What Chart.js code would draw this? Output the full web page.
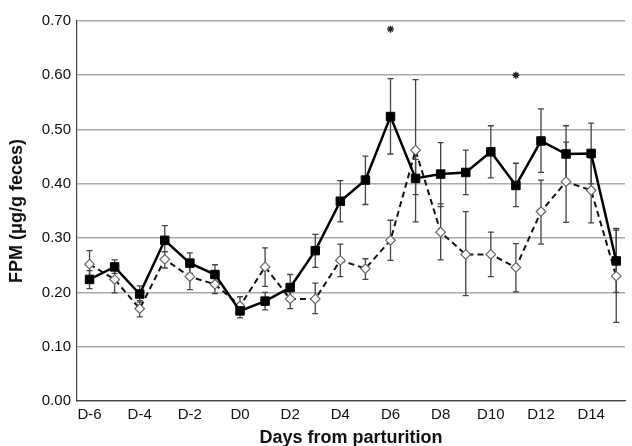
<!DOCTYPE html>
<html>
<head>
<meta charset="utf-8">
<script src="https://cdn.jsdelivr.net/npm/chart.js@4"></script>
<style>
  html, body { margin: 0; padding: 0; background: #fff; overflow: hidden; }
  #wrap { width: 632px; height: 446px; }
</style>
</head>
<body>
<div id="wrap"><canvas id="chart" width="632" height="446"></canvas></div>
<script>
// days from parturition, D-6 .. D15
var days = [-6, -5, -4, -3, -2, -1, 0, 1, 2, 3, 4, 5, 6, 7, 8, 9, 10, 11, 12, 13, 14, 15];

// solid line, square markers
var solidMean = [0.224, 0.247, 0.197, 0.296, 0.254, 0.233, 0.166, 0.184, 0.209, 0.277, 0.368, 0.407, 0.524, 0.410, 0.418, 0.421, 0.459, 0.397, 0.479, 0.455, 0.456, 0.258];
var solidLow  = [0.207, 0.235, 0.182, 0.275, 0.235, 0.215, 0.153, 0.168, 0.190, 0.246, 0.330, 0.362, 0.455, 0.380, 0.358, 0.380, 0.411, 0.358, 0.421, 0.403, 0.400, 0.200];
var solidHigh = [0.240, 0.260, 0.212, 0.323, 0.273, 0.251, 0.180, 0.200, 0.233, 0.307, 0.406, 0.451, 0.594, 0.445, 0.476, 0.462, 0.507, 0.438, 0.538, 0.507, 0.512, 0.318];

// dashed line, open diamond markers
var dashMean = [0.252, 0.224, 0.170, 0.261, 0.229, 0.215, 0.175, 0.247, 0.188, 0.188, 0.259, 0.244, 0.296, 0.462, 0.311, 0.270, 0.270, 0.246, 0.349, 0.404, 0.388, 0.230];
var dashLow  = [0.227, 0.199, 0.155, 0.245, 0.205, 0.198, 0.160, 0.211, 0.170, 0.161, 0.229, 0.224, 0.259, 0.330, 0.260, 0.194, 0.229, 0.201, 0.289, 0.329, 0.328, 0.145];
var dashHigh = [0.277, 0.245, 0.185, 0.275, 0.250, 0.230, 0.192, 0.282, 0.205, 0.217, 0.289, 0.262, 0.333, 0.592, 0.363, 0.349, 0.311, 0.290, 0.407, 0.477, 0.448, 0.315];

// significance marks
var starDays = [6, 11];
var starValues = [0.685, 0.600];

var xTicks = [-6, -4, -2, 0, 2, 4, 6, 8, 10, 12, 14];
var yTicks = [0, 0.1, 0.2, 0.3, 0.4, 0.5, 0.6, 0.7];

function pts(xs, ys) {
  var out = [];
  for (var i = 0; i < xs.length; i++) out.push({ x: xs[i], y: ys[i] });
  return out;
}

// draws the vertical error bars with caps
var errorBars = {
  id: 'errorBars',
  beforeDatasetsDraw: function(chart) {
    var ctx = chart.ctx;
    var xs = chart.scales.x, ys = chart.scales.y;
    var sets = [[solidLow, solidHigh], [dashLow, dashHigh]];
    ctx.save();
    ctx.strokeStyle = '#444';
    ctx.lineWidth = 1.3;
    sets.forEach(function(s) {
      for (var i = 0; i < days.length; i++) {
        var px = xs.getPixelForValue(days[i]);
        var lo = ys.getPixelForValue(s[0][i]);
        var hi = ys.getPixelForValue(s[1][i]);
        ctx.beginPath();
        ctx.moveTo(px, lo); ctx.lineTo(px, hi);
        ctx.moveTo(px - 3, lo); ctx.lineTo(px + 3, lo);
        ctx.moveTo(px - 3, hi); ctx.lineTo(px + 3, hi);
        ctx.stroke();
      }
    });
    ctx.restore();
  }
};

new Chart(document.getElementById('chart'), {
  type: 'line',
  data: {
    datasets: [
      {
        data: pts(days, solidMean),
        borderColor: '#000',
        borderWidth: 2.5,
        pointStyle: 'rect',
        pointRadius: 6,
        pointBackgroundColor: '#000',
        pointBorderColor: '#000',
        pointBorderWidth: 1,
        tension: 0,
        order: 1
      },
      {
        data: pts(days, dashMean),
        borderColor: '#111',
        borderWidth: 2,
        borderDash: [6, 4],
        pointStyle: 'rectRot',
        pointRadius: 4.8,
        pointBackgroundColor: '#fff',
        pointBorderColor: '#666',
        pointBorderWidth: 1.2,
        tension: 0,
        order: 2
      },
      {
        data: pts(starDays, starValues),
        showLine: false,
        pointStyle: 'star',
        pointRadius: 3.5,
        pointBorderColor: '#222',
        pointBorderWidth: 1.4,
        order: 0
      }
    ]
  },
  options: {
    responsive: false,
    animation: false,
    layout: { padding: { top: 21, right: 0, left: 0, bottom: 0 } },
    plugins: { legend: { display: false }, tooltip: { enabled: false } },
    scales: {
      x: {
        type: 'linear',
        min: -6.5,
        max: 15.35,
        afterBuildTicks: function(scale) {
          scale.ticks = xTicks.map(function(v) { return { value: v }; });
        },
        afterFit: function(scale) { scale.height = 45; },
        grid: { display: false, drawTicks: false },
        border: { display: true, color: '#444', width: 1.2 },
        ticks: {
          padding: 5,
          color: '#111',
          font: { family: 'Liberation Sans, Arial', size: 15 },
          maxRotation: 0,
          callback: function(v) { return 'D' + v; }
        },
        title: {
          display: true,
          text: 'Days from parturition',
          color: '#111',
          padding: { top: 1, bottom: -3 },
          font: { family: 'Liberation Sans, Arial', size: 18, weight: 'bold' }
        }
      },
      y: {
        min: 0,
        max: 0.7,
        afterBuildTicks: function(scale) {
          scale.ticks = yTicks.map(function(v) { return { value: v }; });
        },
        afterFit: function(scale) { scale.width = 77; },
        grid: { color: '#aaa', lineWidth: 1.6, drawTicks: false },
        border: { display: true, color: '#444', width: 1.2 },
        ticks: {
          padding: 6,
          color: '#111',
          font: { family: 'Liberation Sans, Arial', size: 15 },
          callback: function(v) { return v.toFixed(2); }
        },
        title: {
          display: true,
          text: 'FPM (\u03bcg/g feces)',
          color: '#111',
          padding: { top: 6, bottom: 2 },
          font: { family: 'Liberation Sans, Arial', size: 18, weight: 'bold' }
        }
      }
    }
  },
  plugins: [errorBars]
});
</script>
</body>
</html>
